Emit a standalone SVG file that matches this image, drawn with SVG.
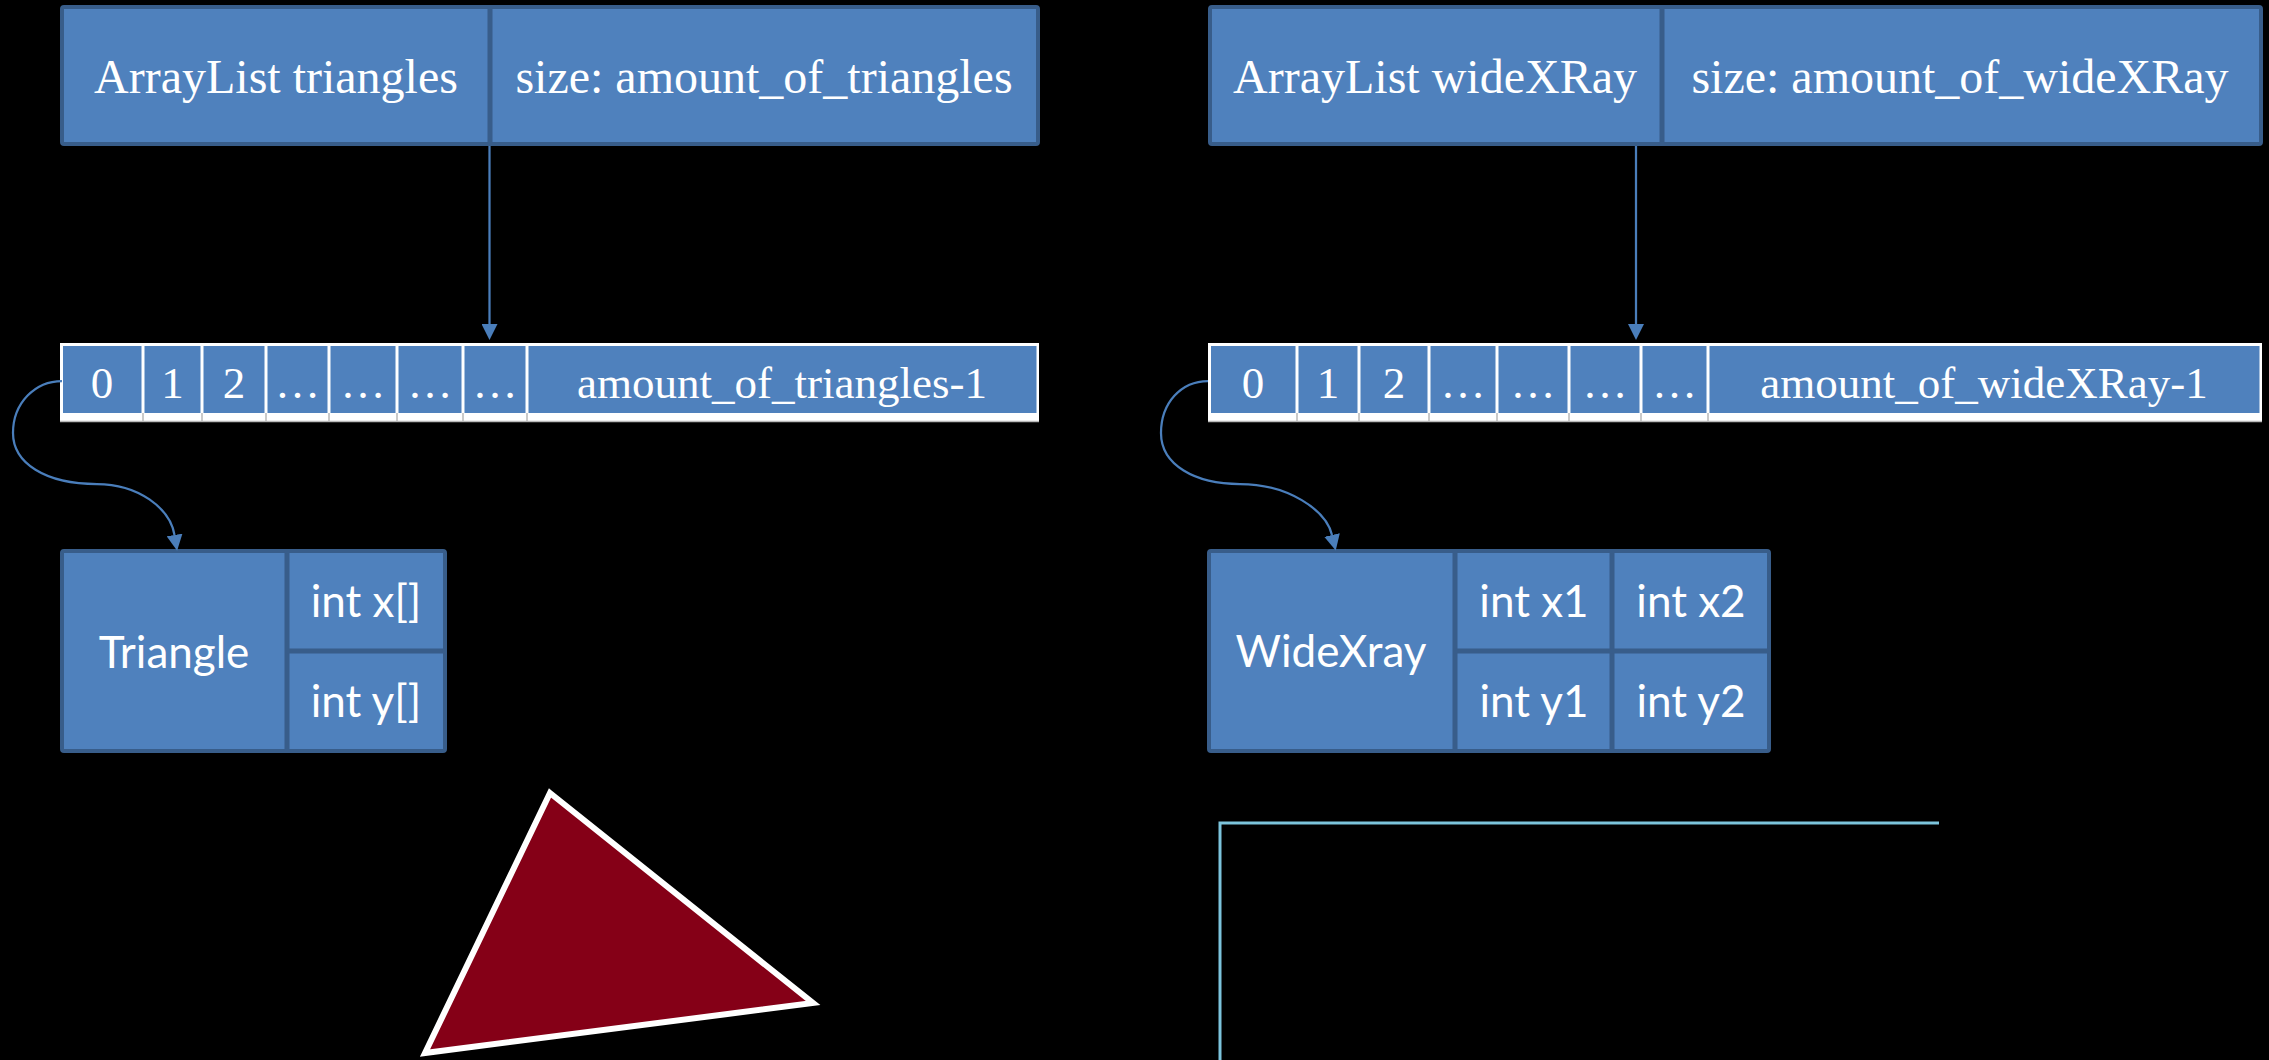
<svg xmlns="http://www.w3.org/2000/svg" width="2269" height="1060" viewBox="0 0 2269 1060">
  <defs>
    <style>
      .box { fill: #4F81BD; stroke: #385D8A; stroke-width: 4; }
      .div { stroke: #385D8A; stroke-width: 5; fill: none; }
      .serif { font-family: "Liberation Serif", "Times New Roman", serif; fill: #FFFFFF; text-anchor: middle; }
      .hdr { font-size: 48px; }
      .idx { font-size: 45px; }
      .sans { font-family: Lato, "Liberation Sans", sans-serif; fill: #FFFFFF; text-anchor: middle; font-size: 44px; }
      .grid { fill: #FFFFFF; }
      .cell { fill: #4F81BD; }
      .band { stroke: #B8B8B8; stroke-width: 1.5; }
      .conn { fill: none; stroke: #4A7EBB; stroke-width: 2.25; }
    </style>
    <marker id="arrow" markerUnits="userSpaceOnUse" markerWidth="16" markerHeight="16" viewBox="0 0 16 16" refX="0" refY="8" orient="auto">
      <path d="M0,0 L16,8 L0,16 z" fill="#4A7EBB"/>
    </marker>
  </defs>

  <rect x="0" y="0" width="2269" height="1060" fill="#000000"/>

  <!-- ArrayList triangles header -->
  <g id="list-triangles">
    <rect class="box" x="62" y="7" width="976" height="137" rx="2"/>
    <line class="div" x1="490" y1="7" x2="490" y2="144"/>
    <text class="serif hdr" x="276" y="93">ArrayList triangles</text>
    <text class="serif hdr" x="764" y="93">size: amount_of_triangles</text>
  </g>

  <!-- ArrayList wideXRay header -->
  <g id="list-widexray">
    <rect class="box" x="1210" y="7" width="1051" height="137" rx="2"/>
    <line class="div" x1="1662" y1="7" x2="1662" y2="144"/>
    <text class="serif hdr" x="1435" y="93">ArrayList wideXRay</text>
    <text class="serif hdr" x="1960" y="93">size: amount_of_wideXRay</text>
  </g>

  <!-- index row for triangles -->
  <g id="array-triangles">
    <rect class="grid" x="60" y="343" width="979" height="79"/>
    <rect class="cell" x="63" y="346" width="78.5" height="67"/>
    <rect class="cell" x="144.5" y="346" width="56" height="67"/>
    <rect class="cell" x="203.5" y="346" width="61" height="67"/>
    <rect class="cell" x="267.5" y="346" width="60" height="67"/>
    <rect class="cell" x="330.5" y="346" width="65" height="67"/>
    <rect class="cell" x="398.5" y="346" width="63" height="67"/>
    <rect class="cell" x="464.5" y="346" width="61" height="67"/>
    <rect class="cell" x="528.5" y="346" width="508" height="67"/>
    <g class="band">
      <line x1="143" y1="413" x2="143" y2="422"/>
      <line x1="202" y1="413" x2="202" y2="422"/>
      <line x1="266" y1="413" x2="266" y2="422"/>
      <line x1="329" y1="413" x2="329" y2="422"/>
      <line x1="397" y1="413" x2="397" y2="422"/>
      <line x1="463" y1="413" x2="463" y2="422"/>
      <line x1="527" y1="413" x2="527" y2="422"/>
      <line x1="60" y1="421.5" x2="1039" y2="421.5"/>
    </g>
    <text class="serif idx" x="102" y="398">0</text>
    <text class="serif idx" x="172.5" y="398">1</text>
    <text class="serif idx" x="234" y="398">2</text>
    <text class="serif idx" x="297.5" y="398">…</text>
    <text class="serif idx" x="363" y="398">…</text>
    <text class="serif idx" x="430" y="398">…</text>
    <text class="serif idx" x="495" y="398">…</text>
    <text class="serif idx" x="782" y="398">amount_of_triangles-1</text>
  </g>

  <!-- index row for wideXRay -->
  <g id="array-widexray">
    <rect class="grid" x="1208" y="343" width="1054" height="79"/>
    <rect class="cell" x="1211" y="346" width="84.5" height="67"/>
    <rect class="cell" x="1298.5" y="346" width="59" height="67"/>
    <rect class="cell" x="1360.5" y="346" width="67" height="67"/>
    <rect class="cell" x="1430.5" y="346" width="65" height="67"/>
    <rect class="cell" x="1498.5" y="346" width="69" height="67"/>
    <rect class="cell" x="1570.5" y="346" width="69" height="67"/>
    <rect class="cell" x="1642.5" y="346" width="64" height="67"/>
    <rect class="cell" x="1709.5" y="346" width="550" height="67"/>
    <g class="band">
      <line x1="1297" y1="413" x2="1297" y2="422"/>
      <line x1="1359" y1="413" x2="1359" y2="422"/>
      <line x1="1429" y1="413" x2="1429" y2="422"/>
      <line x1="1497" y1="413" x2="1497" y2="422"/>
      <line x1="1569" y1="413" x2="1569" y2="422"/>
      <line x1="1641" y1="413" x2="1641" y2="422"/>
      <line x1="1708" y1="413" x2="1708" y2="422"/>
      <line x1="1208" y1="421.5" x2="2262" y2="421.5"/>
    </g>
    <text class="serif idx" x="1253" y="398">0</text>
    <text class="serif idx" x="1328" y="398">1</text>
    <text class="serif idx" x="1394" y="398">2</text>
    <text class="serif idx" x="1463" y="398">…</text>
    <text class="serif idx" x="1533" y="398">…</text>
    <text class="serif idx" x="1605" y="398">…</text>
    <text class="serif idx" x="1674.5" y="398">…</text>
    <text class="serif idx" x="1984" y="398">amount_of_wideXRay-1</text>
  </g>

  <!-- Triangle class -->
  <g id="class-triangle">
    <rect class="box" x="62" y="551" width="383" height="200" rx="2"/>
    <line class="div" x1="287" y1="551" x2="287" y2="751"/>
    <line class="div" x1="287" y1="651" x2="445" y2="651"/>
    <text class="sans" x="174" y="668">Triangle</text>
    <text class="sans" x="366" y="617">int x[]</text>
    <text class="sans" x="366" y="717">int y[]</text>
  </g>

  <!-- WideXray class -->
  <g id="class-widexray">
    <rect class="box" x="1209" y="551" width="560" height="200" rx="2"/>
    <line class="div" x1="1455" y1="551" x2="1455" y2="751"/>
    <line class="div" x1="1612" y1="551" x2="1612" y2="751"/>
    <line class="div" x1="1455" y1="651" x2="1769" y2="651"/>
    <text class="sans" x="1331" y="667">WideXray</text>
    <text class="sans" x="1534" y="617">int x1</text>
    <text class="sans" x="1691" y="617">int x2</text>
    <text class="sans" x="1534" y="717">int y1</text>
    <text class="sans" x="1691" y="717">int y2</text>
  </g>

  <!-- sample triangle -->
  <g id="shape-triangle">
    <polygon points="550,793 813,1003 425,1053" fill="#850017" stroke="#FFFFFF" stroke-width="6" stroke-linejoin="miter"/>
  </g>

  <!-- sample wide x-ray frame -->
  <g id="shape-widexray">
    <polyline points="1220,1062 1220,823 1939,823" fill="none" stroke="#7CC4DC" stroke-width="3"/>
  </g>

  <!-- connectors -->
  <g id="connectors">
    <line class="conn" x1="489.5" y1="146" x2="489.5" y2="324" marker-end="url(#arrow)"/>
    <line class="conn" x1="1636" y1="146" x2="1636" y2="324" marker-end="url(#arrow)"/>
    <path class="conn" d="M62,381 C35,381 13,403 13,433 C13,463 45,484 97,484 C138,484 170,508 174.5,535" marker-end="url(#arrow)"/>
    <path class="conn" d="M1208,381 C1181,381 1161,403 1161,433 C1161,465 1195,484 1240,484 C1288,484 1326,510 1332,535" marker-end="url(#arrow)"/>
  </g>
</svg>
